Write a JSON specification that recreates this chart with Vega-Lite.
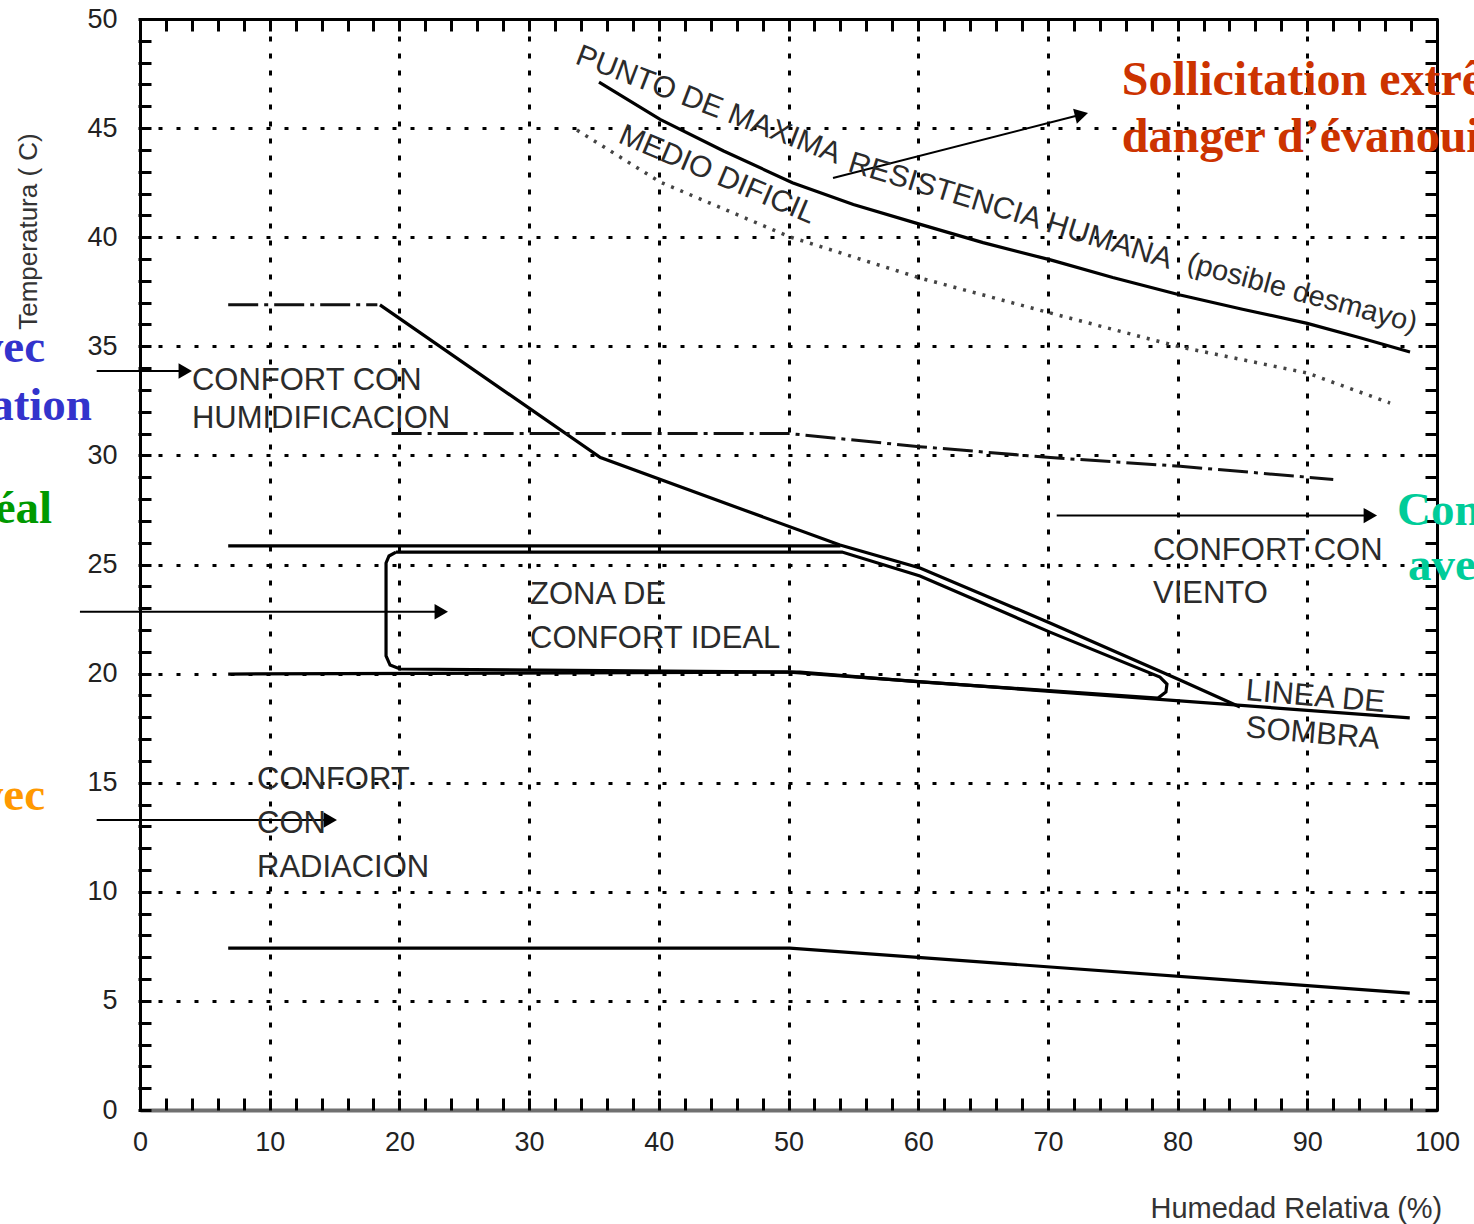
{
  "$schema": "https://vega.github.io/schema/vega-lite/v6.json",
  "width": 1297,
  "height": 1091,
  "autosize": {"type": "none"},
  "padding": {"left": 140, "top": 19, "right": 37, "bottom": 114},
  "background": "white",
  "config": {"view": {"stroke": null}, "font": "Liberation Sans"},
  "resolve": {"axis": {"x": "independent", "y": "independent"}},
  "datasets": {
    "lines": [
      {"s": "max", "o": 1, "h": 35.39, "t": 47.11},
      {"s": "max", "o": 2, "h": 40.1, "t": 45.4},
      {"s": "max", "o": 3, "h": 45.0, "t": 43.95},
      {"s": "max", "o": 4, "h": 50.3, "t": 42.5},
      {"s": "max", "o": 5, "h": 55.0, "t": 41.5},
      {"s": "max", "o": 6, "h": 60.1, "t": 40.6},
      {"s": "max", "o": 7, "h": 65.0, "t": 39.75},
      {"s": "max", "o": 8, "h": 70.2, "t": 38.96},
      {"s": "max", "o": 9, "h": 75.0, "t": 38.15},
      {"s": "max", "o": 10, "h": 80.2, "t": 37.35},
      {"s": "max", "o": 11, "h": 85.0, "t": 36.7},
      {"s": "max", "o": 12, "h": 90.0, "t": 36.05},
      {"s": "max", "o": 13, "h": 94.0, "t": 35.4},
      {"s": "max", "o": 14, "h": 97.92, "t": 34.74},
      {"s": "medio", "o": 1, "h": 33.69, "t": 44.91},
      {"s": "medio", "o": 2, "h": 40.09, "t": 42.53},
      {"s": "medio", "o": 3, "h": 50.12, "t": 40.01},
      {"s": "medio", "o": 4, "h": 60.14, "t": 38.13},
      {"s": "medio", "o": 5, "h": 70.16, "t": 36.53},
      {"s": "medio", "o": 6, "h": 80.19, "t": 34.97},
      {"s": "medio", "o": 7, "h": 89.98, "t": 33.78},
      {"s": "medio", "o": 8, "h": 96.38, "t": 32.4},
      {"s": "humh", "o": 1, "h": 6.8, "t": 36.9},
      {"s": "humh", "o": 2, "h": 18.3, "t": 36.9},
      {"s": "humd", "o": 1, "h": 18.5, "t": 36.9},
      {"s": "humd", "o": 2, "h": 35.5, "t": 29.9},
      {"s": "humd", "o": 3, "h": 53.97, "t": 25.89},
      {"s": "humd", "o": 4, "h": 60.14, "t": 24.84},
      {"s": "humd", "o": 5, "h": 70.16, "t": 22.32},
      {"s": "humd", "o": 6, "h": 80.18, "t": 19.71},
      {"s": "humd", "o": 7, "h": 84.81, "t": 18.47},
      {"s": "l31", "o": 1, "h": 19.4, "t": 31.0},
      {"s": "l31", "o": 2, "h": 50.1, "t": 31.0},
      {"s": "l31", "o": 3, "h": 60.1, "t": 30.4},
      {"s": "l31", "o": 4, "h": 70.2, "t": 29.9},
      {"s": "l31", "o": 5, "h": 80.2, "t": 29.5},
      {"s": "l31", "o": 6, "h": 92.0, "t": 28.9},
      {"s": "l26", "o": 1, "h": 6.8, "t": 25.85},
      {"s": "l26", "o": 2, "h": 54.0, "t": 25.85},
      {"s": "l20", "o": 1, "h": 6.8, "t": 19.98},
      {"s": "l20", "o": 2, "h": 50.1, "t": 20.07},
      {"s": "l20", "o": 3, "h": 97.9, "t": 17.97},
      {"s": "rad", "o": 1, "h": 6.8, "t": 7.42},
      {"s": "rad", "o": 2, "h": 50.1, "t": 7.42},
      {"s": "rad", "o": 3, "h": 97.9, "t": 5.36},
      {"s": "zone", "o": 1, "h": 19.74, "t": 25.57},
      {"s": "zone", "o": 2, "h": 54.13, "t": 25.57},
      {"s": "zone", "o": 3, "h": 60.14, "t": 24.47},
      {"s": "zone", "o": 4, "h": 70.16, "t": 21.9},
      {"s": "zone", "o": 5, "h": 78.64, "t": 19.84},
      {"s": "zone", "o": 6, "h": 79.18, "t": 19.52},
      {"s": "zone", "o": 7, "h": 79.1, "t": 19.16},
      {"s": "zone", "o": 8, "h": 78.49, "t": 18.88},
      {"s": "zone", "o": 9, "h": 60.14, "t": 19.62},
      {"s": "zone", "o": 10, "h": 50.89, "t": 20.07},
      {"s": "zone", "o": 11, "h": 20.05, "t": 20.21},
      {"s": "zone", "o": 12, "h": 19.28, "t": 20.39},
      {"s": "zone", "o": 13, "h": 18.97, "t": 20.81},
      {"s": "zone", "o": 14, "h": 18.97, "t": 25.07},
      {"s": "zone", "o": 15, "h": 19.2, "t": 25.39},
      {"s": "zone", "o": 16, "h": 19.74, "t": 25.57}
    ],
    "arrows": [
      {"a": "diag", "o": 1, "h": 53.43, "t": 42.71},
      {"a": "diag", "o": 2, "h": 72.59, "t": 45.62},
      {"a": "hum", "o": 1, "h": -3.34, "t": 33.87},
      {"a": "hum", "o": 2, "h": 3.49, "t": 33.87},
      {"a": "ideal", "o": 1, "h": -4.63, "t": 22.83},
      {"a": "ideal", "o": 2, "h": 23.23, "t": 22.83},
      {"a": "rad", "o": 1, "h": -3.34, "t": 13.29},
      {"a": "rad", "o": 2, "h": 14.67, "t": 13.29},
      {"a": "vien", "o": 1, "h": 70.68, "t": 27.24},
      {"a": "vien", "o": 2, "h": 94.86, "t": 27.24}
    ],
    "heads": [
      {"a": "hum", "h": 3.49, "t": 33.87},
      {"a": "ideal", "h": 23.23, "t": 22.83},
      {"a": "rad", "h": 14.67, "t": 13.29},
      {"a": "vien", "h": 94.86, "t": 27.24}
    ],
    "dhead": [
      {"a": "diag", "h": 72.59, "t": 45.62}
    ],
    "texts": [
      {"g": "lab", "txt": "CONFORT CON", "h": 4.0, "t": 33.0},
      {"g": "lab", "txt": "HUMIDIFICACION", "h": 4.0, "t": 31.26},
      {"g": "lab", "txt": "ZONA  DE", "h": 30.07, "t": 23.19},
      {"g": "lab", "txt": "CONFORT IDEAL", "h": 30.07, "t": 21.17},
      {"g": "lab", "txt": "CONFORT CON", "h": 78.1, "t": 25.2},
      {"g": "lab", "txt": "VIENTO", "h": 78.1, "t": 23.24},
      {"g": "lab", "txt": "CONFORT", "h": 9.02, "t": 14.71},
      {"g": "lab", "txt": "CON", "h": 9.02, "t": 12.69},
      {"g": "lab", "txt": "RADIACION", "h": 9.02, "t": 10.68},
      {"g": "r21", "txt": "PUNTO DE MAXIMA", "h": 33.46, "t": 47.98},
      {"g": "r17", "txt": "RESISTENCIA HUMANA", "h": 54.5, "t": 43.05},
      {"g": "r15", "txt": "(posible desmayo)", "h": 80.6, "t": 38.45},
      {"g": "r24", "txt": "MEDIO  DIFICIL", "h": 36.78, "t": 44.36},
      {"g": "r5", "txt": "LINEA DE", "h": 85.2, "t": 18.79},
      {"g": "r5", "txt": "SOMBRA", "h": 85.2, "t": 17.09},
      {"g": "red", "txt": "Sollicitation extrême,", "h": 75.7, "t": 46.52},
      {"g": "red", "txt": "danger d’évanouissement", "h": 75.7, "t": 43.92},
      {"g": "blue", "txt": "Confort avec", "h": -7.32, "t": 34.3},
      {"g": "blue", "txt": "humidification", "h": -3.7, "t": 31.62},
      {"g": "green", "txt": "Confort idéal", "h": -6.78, "t": 26.9},
      {"g": "orange", "txt": "Confort avec", "h": -7.32, "t": 13.75},
      {"g": "teal", "txt": "Confort", "h": 96.92, "t": 26.81},
      {"g": "teal", "txt": "avec ventilation", "h": 97.77, "t": 24.29}
    ]
  },
  "layer": [
    {
      "data": {"name": "lines"},
      "transform": [{"filter": {"field": "s", "oneOf": ["max", "humd", "l26", "l20", "rad"]}}],
      "mark": {"type": "line", "color": "#000", "strokeWidth": 3.2, "interpolate": "linear"},
      "encoding": {
        "x": {"field": "h", "type": "quantitative", "scale": {"domain": [0, 100], "nice": false, "zero": false},
          "axis": {"orient": "bottom", "values": [0, 10, 20, 30, 40, 50, 60, 70, 80, 90, 100], "grid": true, "gridDash": [5, 12], "gridColor": "#000", "gridWidth": 3, "gridOpacity": 1, "ticks": false, "domain": true, "domainColor": "#707070", "domainWidth": 4, "labelFont": "Liberation Sans", "labelFontSize": 27, "labelColor": "#222", "labelPadding": 19, "labelFlush": false, "labelOverlap": false, "title": "Humedad Relativa  (%)", "titleFont": "Liberation Sans", "titleFontSize": 29, "titleFontWeight": "normal", "titleColor": "#333", "titleX": 1010, "titleY": 107, "titleAlign": "left", "titleBaseline": "alphabetic"}},
        "y": {"field": "t", "type": "quantitative", "scale": {"domain": [0, 50], "nice": false, "zero": false},
          "axis": {"orient": "left", "values": [0, 5, 10, 15, 20, 25, 30, 35, 40, 45, 50], "grid": true, "gridDash": [4, 14], "gridColor": "#000", "gridWidth": 3, "gridOpacity": 1, "ticks": false, "domain": true, "domainColor": "#000", "domainWidth": 3, "labelFont": "Liberation Sans", "labelFontSize": 27, "labelColor": "#222", "labelPadding": 23, "labelFlush": false, "labelOverlap": false, "title": "Temperatura ( C)", "titleFont": "Liberation Sans", "titleFontSize": 26, "titleFontWeight": "normal", "titleColor": "#333", "titleX": -112, "titleY": 212, "titleAngle": -90, "titleAlign": "center", "titleBaseline": "middle"}},
        "order": {"field": "o", "type": "quantitative"},
        "detail": {"field": "s"}
      }
    },
    {
      "data": {"name": "lines"},
      "transform": [{"filter": {"field": "s", "equal": "medio"}}],
      "mark": {"type": "line", "color": "#444", "strokeWidth": 3.5, "strokeDash": [3, 7]},
      "encoding": {
        "x": {"field": "h", "type": "quantitative", "scale": {"domain": [0, 100], "nice": false, "zero": false},
          "axis": {"orient": "bottom", "values": [0, 2, 4, 6, 8, 10, 12, 14, 16, 18, 20, 22, 24, 26, 28, 30, 32, 34, 36, 38, 40, 42, 44, 46, 48, 50, 52, 54, 56, 58, 60, 62, 64, 66, 68, 70, 72, 74, 76, 78, 80, 82, 84, 86, 88, 90, 92, 94, 96, 98, 100], "offset": -12, "tickSize": 12, "tickWidth": 3, "tickColor": "#000", "domain": false, "labels": false, "grid": false, "title": null}},
        "y": {"field": "t", "type": "quantitative", "scale": {"domain": [0, 50], "nice": false, "zero": false},
          "axis": {"orient": "left", "values": [0, 1, 2, 3, 4, 5, 6, 7, 8, 9, 10, 11, 12, 13, 14, 15, 16, 17, 18, 19, 20, 21, 22, 23, 24, 25, 26, 27, 28, 29, 30, 31, 32, 33, 34, 35, 36, 37, 38, 39, 40, 41, 42, 43, 44, 45, 46, 47, 48, 49, 50], "offset": -11, "tickSize": 13, "tickWidth": 3, "tickColor": "#000", "domain": false, "labels": false, "grid": false, "title": null}},
        "order": {"field": "o", "type": "quantitative"}
      }
    },
    {
      "data": {"name": "lines"},
      "transform": [{"filter": {"field": "s", "oneOf": ["humh", "l31"]}}],
      "mark": {"type": "line", "color": "#111", "strokeWidth": 3, "strokeDash": [30, 6, 4, 6]},
      "encoding": {
        "x": {"field": "h", "type": "quantitative", "scale": {"domain": [0, 100], "nice": false, "zero": false},
          "axis": {"orient": "top", "domain": true, "domainColor": "#000", "domainWidth": 3, "ticks": false, "labels": false, "grid": false, "title": null}},
        "y": {"field": "t", "type": "quantitative", "scale": {"domain": [0, 50], "nice": false, "zero": false},
          "axis": {"orient": "right", "domain": true, "domainColor": "#000", "domainWidth": 3, "ticks": false, "labels": false, "grid": false, "title": null}},
        "order": {"field": "o", "type": "quantitative"},
        "detail": {"field": "s"}
      }
    },
    {
      "data": {"name": "lines"},
      "transform": [{"filter": {"field": "s", "equal": "zone"}}],
      "mark": {"type": "line", "color": "#000", "strokeWidth": 3.2},
      "encoding": {
        "x": {"field": "h", "type": "quantitative", "scale": {"domain": [0, 100], "nice": false, "zero": false},
          "axis": {"orient": "top", "values": [0, 2, 4, 6, 8, 10, 12, 14, 16, 18, 20, 22, 24, 26, 28, 30, 32, 34, 36, 38, 40, 42, 44, 46, 48, 50, 52, 54, 56, 58, 60, 62, 64, 66, 68, 70, 72, 74, 76, 78, 80, 82, 84, 86, 88, 90, 92, 94, 96, 98, 100], "offset": -12, "tickSize": 12, "tickWidth": 3, "tickColor": "#000", "domain": false, "labels": false, "grid": false, "title": null}},
        "y": {"field": "t", "type": "quantitative", "scale": {"domain": [0, 50], "nice": false, "zero": false},
          "axis": {"orient": "right", "values": [0, 1, 2, 3, 4, 5, 6, 7, 8, 9, 10, 11, 12, 13, 14, 15, 16, 17, 18, 19, 20, 21, 22, 23, 24, 25, 26, 27, 28, 29, 30, 31, 32, 33, 34, 35, 36, 37, 38, 39, 40, 41, 42, 43, 44, 45, 46, 47, 48, 49, 50], "offset": -12, "tickSize": 13, "tickWidth": 3, "tickColor": "#000", "domain": false, "labels": false, "grid": false, "title": null}},
        "order": {"field": "o", "type": "quantitative"}
      }
    },
    {
      "data": {"name": "arrows"},
      "mark": {"type": "line", "color": "#000", "strokeWidth": 2},
      "encoding": {
        "x": {"field": "h", "type": "quantitative", "scale": {"domain": [0, 100], "nice": false, "zero": false}, "axis": null},
        "y": {"field": "t", "type": "quantitative", "scale": {"domain": [0, 50], "nice": false, "zero": false}, "axis": null},
        "order": {"field": "o", "type": "quantitative"},
        "detail": {"field": "a"}
      }
    },
    {
      "data": {"name": "heads"},
      "mark": {"type": "point", "shape": "triangle-right", "filled": true, "color": "#000", "opacity": 1, "size": 240},
      "encoding": {
        "x": {"field": "h", "type": "quantitative", "scale": {"domain": [0, 100], "nice": false, "zero": false}, "axis": null},
        "y": {"field": "t", "type": "quantitative", "scale": {"domain": [0, 50], "nice": false, "zero": false}, "axis": null}
      }
    },
    {
      "data": {"name": "dhead"},
      "mark": {"type": "point", "shape": "triangle-right", "filled": true, "color": "#000", "opacity": 1, "size": 240, "angle": -14},
      "encoding": {
        "x": {"field": "h", "type": "quantitative", "scale": {"domain": [0, 100], "nice": false, "zero": false}, "axis": null},
        "y": {"field": "t", "type": "quantitative", "scale": {"domain": [0, 50], "nice": false, "zero": false}, "axis": null}
      }
    },
    {
      "data": {"name": "texts"},
      "transform": [{"filter": {"field": "g", "equal": "lab"}}],
      "mark": {"type": "text", "font": "Liberation Sans", "fontSize": 31, "color": "#2b2b2b", "align": "left", "baseline": "alphabetic"},
      "encoding": {
        "x": {"field": "h", "type": "quantitative", "scale": {"domain": [0, 100], "nice": false, "zero": false}, "axis": null},
        "y": {"field": "t", "type": "quantitative", "scale": {"domain": [0, 50], "nice": false, "zero": false}, "axis": null},
        "text": {"field": "txt"}
      }
    },
    {
      "data": {"name": "texts"},
      "transform": [{"filter": {"field": "g", "equal": "r21"}}],
      "mark": {"type": "text", "font": "Liberation Sans", "fontSize": 30, "color": "#2b2b2b", "align": "left", "baseline": "alphabetic", "angle": 21},
      "encoding": {
        "x": {"field": "h", "type": "quantitative", "scale": {"domain": [0, 100], "nice": false, "zero": false}, "axis": null},
        "y": {"field": "t", "type": "quantitative", "scale": {"domain": [0, 50], "nice": false, "zero": false}, "axis": null},
        "text": {"field": "txt"}
      }
    },
    {
      "data": {"name": "texts"},
      "transform": [{"filter": {"field": "g", "equal": "r17"}}],
      "mark": {"type": "text", "font": "Liberation Sans", "fontSize": 30, "color": "#2b2b2b", "align": "left", "baseline": "alphabetic", "angle": 17},
      "encoding": {
        "x": {"field": "h", "type": "quantitative", "scale": {"domain": [0, 100], "nice": false, "zero": false}, "axis": null},
        "y": {"field": "t", "type": "quantitative", "scale": {"domain": [0, 50], "nice": false, "zero": false}, "axis": null},
        "text": {"field": "txt"}
      }
    },
    {
      "data": {"name": "texts"},
      "transform": [{"filter": {"field": "g", "equal": "r15"}}],
      "mark": {"type": "text", "font": "Liberation Sans", "fontSize": 29, "color": "#2b2b2b", "align": "left", "baseline": "alphabetic", "angle": 15},
      "encoding": {
        "x": {"field": "h", "type": "quantitative", "scale": {"domain": [0, 100], "nice": false, "zero": false}, "axis": null},
        "y": {"field": "t", "type": "quantitative", "scale": {"domain": [0, 50], "nice": false, "zero": false}, "axis": null},
        "text": {"field": "txt"}
      }
    },
    {
      "data": {"name": "texts"},
      "transform": [{"filter": {"field": "g", "equal": "r24"}}],
      "mark": {"type": "text", "font": "Liberation Sans", "fontSize": 30, "color": "#2b2b2b", "align": "left", "baseline": "alphabetic", "angle": 23},
      "encoding": {
        "x": {"field": "h", "type": "quantitative", "scale": {"domain": [0, 100], "nice": false, "zero": false}, "axis": null},
        "y": {"field": "t", "type": "quantitative", "scale": {"domain": [0, 50], "nice": false, "zero": false}, "axis": null},
        "text": {"field": "txt"}
      }
    },
    {
      "data": {"name": "texts"},
      "transform": [{"filter": {"field": "g", "equal": "r5"}}],
      "mark": {"type": "text", "font": "Liberation Sans", "fontSize": 31, "color": "#2b2b2b", "align": "left", "baseline": "alphabetic", "angle": 5},
      "encoding": {
        "x": {"field": "h", "type": "quantitative", "scale": {"domain": [0, 100], "nice": false, "zero": false}, "axis": null},
        "y": {"field": "t", "type": "quantitative", "scale": {"domain": [0, 50], "nice": false, "zero": false}, "axis": null},
        "text": {"field": "txt"}
      }
    },
    {
      "data": {"name": "texts"},
      "transform": [{"filter": {"field": "g", "equal": "red"}}],
      "mark": {"type": "text", "font": "Liberation Serif", "fontWeight": "bold", "fontSize": 48, "color": "#cc3300", "align": "left", "baseline": "alphabetic"},
      "encoding": {
        "x": {"field": "h", "type": "quantitative", "scale": {"domain": [0, 100], "nice": false, "zero": false}, "axis": null},
        "y": {"field": "t", "type": "quantitative", "scale": {"domain": [0, 50], "nice": false, "zero": false}, "axis": null},
        "text": {"field": "txt"}
      }
    },
    {
      "data": {"name": "texts"},
      "transform": [{"filter": {"field": "g", "equal": "blue"}}],
      "mark": {"type": "text", "font": "Liberation Serif", "fontWeight": "bold", "fontSize": 47, "color": "#3333cc", "align": "right", "baseline": "alphabetic"},
      "encoding": {
        "x": {"field": "h", "type": "quantitative", "scale": {"domain": [0, 100], "nice": false, "zero": false}, "axis": null},
        "y": {"field": "t", "type": "quantitative", "scale": {"domain": [0, 50], "nice": false, "zero": false}, "axis": null},
        "text": {"field": "txt"}
      }
    },
    {
      "data": {"name": "texts"},
      "transform": [{"filter": {"field": "g", "equal": "green"}}],
      "mark": {"type": "text", "font": "Liberation Serif", "fontWeight": "bold", "fontSize": 47, "color": "#009900", "align": "right", "baseline": "alphabetic"},
      "encoding": {
        "x": {"field": "h", "type": "quantitative", "scale": {"domain": [0, 100], "nice": false, "zero": false}, "axis": null},
        "y": {"field": "t", "type": "quantitative", "scale": {"domain": [0, 50], "nice": false, "zero": false}, "axis": null},
        "text": {"field": "txt"}
      }
    },
    {
      "data": {"name": "texts"},
      "transform": [{"filter": {"field": "g", "equal": "orange"}}],
      "mark": {"type": "text", "font": "Liberation Serif", "fontWeight": "bold", "fontSize": 47, "color": "#ff9900", "align": "right", "baseline": "alphabetic"},
      "encoding": {
        "x": {"field": "h", "type": "quantitative", "scale": {"domain": [0, 100], "nice": false, "zero": false}, "axis": null},
        "y": {"field": "t", "type": "quantitative", "scale": {"domain": [0, 50], "nice": false, "zero": false}, "axis": null},
        "text": {"field": "txt"}
      }
    },
    {
      "data": {"name": "texts"},
      "transform": [{"filter": {"field": "g", "equal": "teal"}}],
      "mark": {"type": "text", "font": "Liberation Serif", "fontWeight": "bold", "fontSize": 47, "color": "#00cc99", "align": "left", "baseline": "alphabetic"},
      "encoding": {
        "x": {"field": "h", "type": "quantitative", "scale": {"domain": [0, 100], "nice": false, "zero": false}, "axis": null},
        "y": {"field": "t", "type": "quantitative", "scale": {"domain": [0, 50], "nice": false, "zero": false}, "axis": null},
        "text": {"field": "txt"}
      }
    }
  ]
}
